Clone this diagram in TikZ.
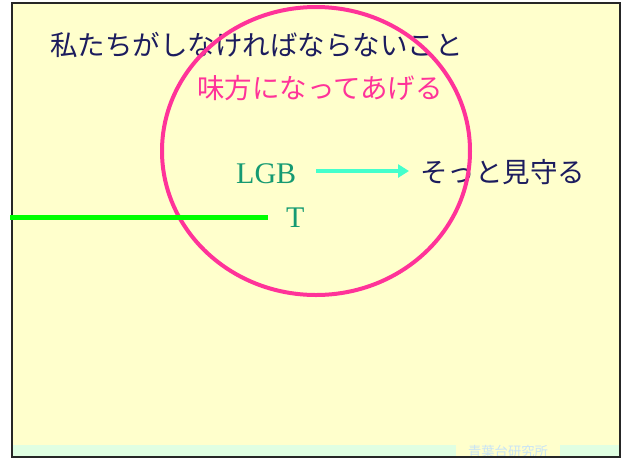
\documentclass[tikz,border=0pt]{standalone}
\usepackage{fontspec}
\usetikzlibrary{arrows.meta}
\newfontfamily\jp{Noto Sans CJK JP}
\newfontfamily\serifl{Liberation Serif}
\definecolor{bgy}{HTML}{FFFFCC}
\definecolor{navy}{HTML}{1C1C5E}
\definecolor{pinkc}{HTML}{FF3399}
\definecolor{tealc}{HTML}{159A72}
\definecolor{cyanc}{HTML}{44FFCC}
\definecolor{greenc}{HTML}{00FF00}
\definecolor{bandc}{HTML}{E0FFE2}
\definecolor{footc}{HTML}{C8E4F6}
\begin{document}
\begin{tikzpicture}[x=1pt,y=-1pt,
  jptext/.style={inner sep=0pt,anchor=west,font=\jp\fontsize{27.5}{30}\selectfont},
  lat/.style={inner sep=0pt,anchor=west,text=tealc,font=\serifl\fontsize{30}{32}\selectfont}]
\useasboundingbox (0,0) rectangle (622,459);
\fill[white] (0,0) rectangle (622,459);
\fill[bgy] (12,3) rectangle (620,457);
% footer band
\fill[bandc] (13,445) rectangle (456,456);
\fill[bandc] (560,445) rectangle (619,456);
\node[inner sep=0pt,anchor=center,text=footc,font=\jp\fontsize{13.3}{14}\selectfont] (foot) at (508,451) {青葉台研究所};
\draw[line width=2pt,black!85] (12,3) rectangle (620,457);
% texts
\node[jptext,text=navy] (title) at (50,45) {私たちがしなければならないこと};
\node[jptext,text=pinkc] (mikata) at (197,88) {味方になってあげる};
\node[lat] (lgb) at (236,174) {LGB};
\node[lat] (t) at (286,218) {T};
\node[jptext,text=navy] (mimamoru) at (420,172) {そっと見守る};
% circle
\draw[pinkc,line width=4pt] (316,151) ellipse [x radius=154, y radius=144];
% connectors
\coordinate (gstart) at (10,217);
\coordinate (gend) at (268,217);
\draw[greenc,line width=5pt] (gstart) -- (gend);
\coordinate (astart) at (316,171);
\coordinate (aend) at (409,171);
\draw[cyanc,line width=4.5pt,-{Triangle[length=11pt,width=13pt]}] (astart) -- (aend);
\end{tikzpicture}
\end{document}
